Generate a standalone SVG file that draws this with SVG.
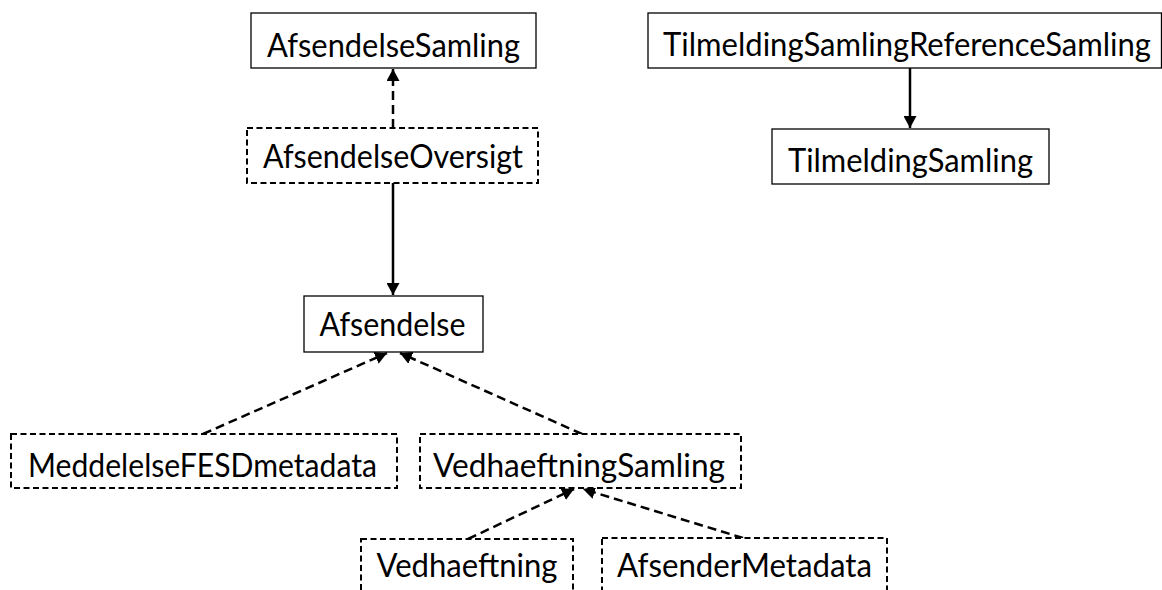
<svg xmlns="http://www.w3.org/2000/svg" width="1162" height="590" viewBox="0 0 1162 590">
<style>
  .box { fill: #ffffff; stroke: #000000; stroke-width: 1.3; }
  .dbox { fill: #ffffff; stroke: #000000; stroke-width: 2; stroke-dasharray: 6 3.5; }
  .lbl { font-family: Lato, "Open Sans", "Liberation Sans", sans-serif; font-size: 32px; fill: #000000; text-anchor: middle; }
  .conn { fill: none; stroke: #000000; stroke-width: 2.5; }
  .dash { stroke-dasharray: 9 5; }
</style>
<defs>
  <marker id="arr" markerUnits="userSpaceOnUse" markerWidth="13" markerHeight="13" refX="12" refY="6.5" orient="auto">
    <path d="M0,0 L12,6.5 L0,13 z" fill="#000000"/>
  </marker>
</defs>
<rect width="1162" height="590" fill="#ffffff"/>
<g id="connectors">
  <line class="conn dash" x1="393" y1="128" x2="393" y2="69" marker-end="url(#arr)"/>
  <line class="conn" x1="393" y1="183" x2="393" y2="295" marker-end="url(#arr)"/>
  <line class="conn" x1="910" y1="68" x2="910" y2="128" marker-end="url(#arr)"/>
  <line class="conn dash" x1="203" y1="434" x2="387" y2="353" marker-end="url(#arr)"/>
  <line class="conn dash" x1="582" y1="434" x2="400" y2="353" marker-end="url(#arr)"/>
  <line class="conn dash" x1="468" y1="539" x2="574" y2="489" marker-end="url(#arr)"/>
  <line class="conn dash" x1="743" y1="538" x2="583" y2="489" marker-end="url(#arr)"/>
</g>
<g id="AfsendelseSamling">
  <rect class="box" x="251" y="13" width="285" height="55"/>
  <text class="lbl" x="393.5" y="57" textLength="253" lengthAdjust="spacingAndGlyphs">AfsendelseSamling</text>
</g>
<g id="AfsendelseOversigt">
  <rect class="dbox" x="247" y="128" width="291" height="55"/>
  <text class="lbl" x="393" y="168" textLength="260" lengthAdjust="spacingAndGlyphs">AfsendelseOversigt</text>
</g>
<g id="TilmeldingSamlingReferenceSamling">
  <rect class="box" x="648" y="13" width="513.5" height="55"/>
  <text class="lbl" x="907" y="56" textLength="488" lengthAdjust="spacingAndGlyphs">TilmeldingSamlingReferenceSamling</text>
</g>
<g id="TilmeldingSamling">
  <rect class="box" x="772" y="129" width="277" height="55"/>
  <text class="lbl" x="910.5" y="172" textLength="245" lengthAdjust="spacingAndGlyphs">TilmeldingSamling</text>
</g>
<g id="Afsendelse">
  <rect class="box" x="304" y="296" width="179" height="56"/>
  <text class="lbl" x="392.5" y="336" textLength="146" lengthAdjust="spacingAndGlyphs">Afsendelse</text>
</g>
<g id="MeddelelseFESDmetadata">
  <rect class="dbox" x="11" y="434" width="386" height="54"/>
  <text class="lbl" x="202.5" y="477" textLength="349" lengthAdjust="spacingAndGlyphs">MeddelelseFESDmetadata</text>
</g>
<g id="VedhaeftningSamling">
  <rect class="dbox" x="420" y="434" width="321" height="54"/>
  <text class="lbl" x="579" y="477" textLength="292" lengthAdjust="spacingAndGlyphs">VedhaeftningSamling</text>
</g>
<g id="Vedhaeftning">
  <rect class="dbox" x="361" y="539" width="212" height="70"/>
  <text class="lbl" x="467" y="577" textLength="181" lengthAdjust="spacingAndGlyphs">Vedhaeftning</text>
</g>
<g id="AfsenderMetadata">
  <rect class="dbox" x="602" y="538" width="285" height="70"/>
  <text class="lbl" x="744.5" y="577" textLength="255" lengthAdjust="spacingAndGlyphs">AfsenderMetadata</text>
</g>
</svg>
